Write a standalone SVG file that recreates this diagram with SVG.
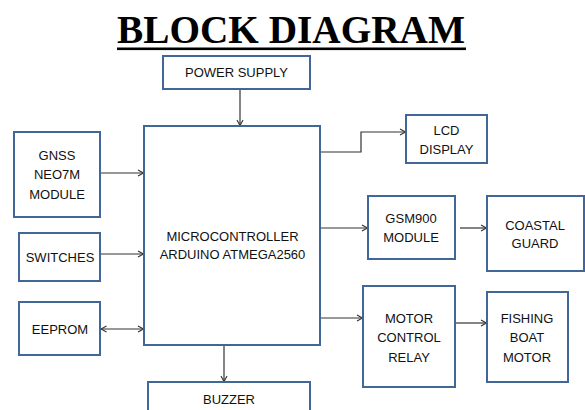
<svg xmlns="http://www.w3.org/2000/svg" width="585" height="410" viewBox="0 0 585 410">
<style>
.box{fill:#fff;stroke:#41679a;stroke-width:2}
.t{font-family:"Liberation Sans",Arial,sans-serif;font-size:13px;fill:#111;text-anchor:middle}
.c{fill:none;stroke:#333;stroke-width:1.2}
</style>
<defs>
<marker id="ah" markerWidth="8" markerHeight="8" refX="6" refY="4" orient="auto" markerUnits="userSpaceOnUse">
<path d="M1,1 L6.5,4 L1,7" fill="none" stroke="#333" stroke-width="1.1"/>
</marker>
<marker id="as" markerWidth="8" markerHeight="8" refX="1" refY="4" orient="auto" markerUnits="userSpaceOnUse">
<path d="M6.5,1 L1,4 L6.5,7" fill="none" stroke="#333" stroke-width="1.1"/>
</marker>
</defs>
<rect width="585" height="410" fill="#fff"/>
<g id="title">
<text x="117" y="43" font-family="'Liberation Serif','Times New Roman',serif" font-weight="bold" font-size="40" textLength="348" lengthAdjust="spacingAndGlyphs" fill="#000">BLOCK DIAGRAM</text>
<rect x="117" y="47.5" width="349" height="2.6" fill="#000"/>
</g>
<g id="connectors">
<path class="c" d="M240,89 V125" marker-end="url(#ah)"/>
<path class="c" d="M100,173 H143" marker-end="url(#ah)"/>
<path class="c" d="M100,254 H143" marker-end="url(#ah)"/>
<path class="c" d="M101,329 H143" marker-start="url(#as)" marker-end="url(#ah)"/>
<path class="c" d="M321,152 H361 V132 H405" marker-end="url(#ah)"/>
<path class="c" d="M321,228 H367" marker-end="url(#ah)"/>
<path class="c" d="M460,228 H486" marker-end="url(#ah)"/>
<path class="c" d="M321,318 H362" marker-end="url(#ah)"/>
<path class="c" d="M455,323 H486" marker-end="url(#ah)"/>
<path class="c" d="M224,345 V381" marker-end="url(#ah)"/>
</g>
<g id="power"><rect class="box" x="163" y="56" width="147" height="33"/><text class="t" x="236.5" y="77">POWER SUPPLY</text></g>
<g id="mcu"><rect class="box" x="144" y="126" width="176" height="219"/><text class="t" x="232.5" y="241">MICROCONTROLLER</text><text class="t" x="232.5" y="259">ARDUINO ATMEGA2560</text></g>
<g id="gnss"><rect class="box" x="14" y="132" width="86" height="85"/><text class="t" x="57" y="159.5">GNSS</text><text class="t" x="57" y="179">NEO7M</text><text class="t" x="57" y="198.5">MODULE</text></g>
<g id="switches"><rect class="box" x="19" y="233" width="81" height="48"/><text class="t" x="60" y="261.5">SWITCHES</text></g>
<g id="eeprom"><rect class="box" x="19" y="302" width="81" height="53"/><text class="t" x="60" y="333.5">EEPROM</text></g>
<g id="buzzer"><rect class="box" x="148" y="382" width="162" height="40"/><text class="t" x="229" y="403.5">BUZZER</text></g>
<g id="lcd"><rect class="box" x="406" y="115" width="81" height="48"/><text class="t" x="446.5" y="135">LCD</text><text class="t" x="446.5" y="154">DISPLAY</text></g>
<g id="gsm"><rect class="box" x="368" y="196" width="87" height="63"/><text class="t" x="411" y="222.5">GSM900</text><text class="t" x="411" y="241.5">MODULE</text></g>
<g id="coastal"><rect class="box" x="487" y="196" width="97" height="75"/><text class="t" x="535" y="229.5">COASTAL</text><text class="t" x="535" y="248">GUARD</text></g>
<g id="relay"><rect class="box" x="363" y="286" width="92" height="101"/><text class="t" x="409" y="323">MOTOR</text><text class="t" x="409" y="342">CONTROL</text><text class="t" x="409" y="361.5">RELAY</text></g>
<g id="fishing"><rect class="box" x="487" y="292" width="81" height="90"/><text class="t" x="527" y="323">FISHING</text><text class="t" x="527" y="342">BOAT</text><text class="t" x="527" y="361.5">MOTOR</text></g>
</svg>
